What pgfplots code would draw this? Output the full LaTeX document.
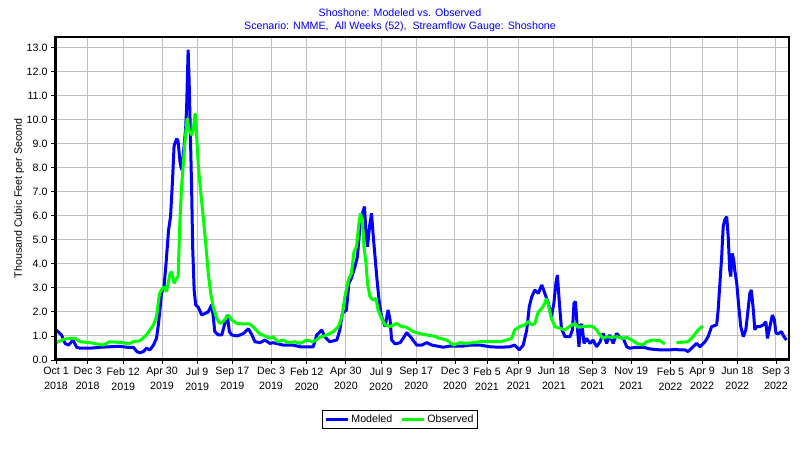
\documentclass[border=0pt]{standalone}
\usepackage{fontspec}
\setmainfont{Liberation Sans}
\usepackage{pgfplots}
\pgfplotsset{compat=1.18}
\usepackage{pgfplotstable}
\definecolor{mblue}{RGB}{0,0,255}
\definecolor{mgreen}{RGB}{0,255,0}
\definecolor{gridgray}{RGB}{192,192,192}

% day offset from Oct 1 2018, thousand cfs
\pgfplotstableread{
day val
0 1.25
11 1.04
18 0.69
25 0.62
31 0.76
34 0.83
41 0.53
48 0.49
68 0.49
88 0.53
107 0.55
127 0.57
141 0.53
154 0.53
161 0.35
167 0.30
174 0.35
180 0.49
187 0.42
194 0.62
200 0.90
204 1.50
210 2.77
215 3.05
219 4.00
224 5.40
228 5.96
232 7.50
235 8.90
240 9.20
243 9.10
247 8.20
250 7.90
253 8.45
258 9.60
260 10.50
263 12.90
265 11.60
268 8.90
270 7.07
272 4.70
275 2.90
278 2.29
283 2.20
290 1.87
297 1.94
303 2.00
310 2.30
313 1.80
316 1.18
323 1.04
330 1.04
336 1.52
341 1.87
345 1.18
350 1.04
360 1.00
366 1.04
373 1.10
383 1.30
390 1.04
396 0.76
406 0.72
416 0.83
426 0.69
432 0.72
452 0.62
472 0.62
486 0.55
512 0.55
519 1.04
529 1.25
535 0.97
545 0.76
559 0.83
565 1.25
570 1.94
578 2.08
583 3.19
588 3.40
595 3.88
600 4.30
605 5.54
610 6.10
614 6.38
617 5.27
620 4.71
624 5.54
628 6.10
631 5.27
635 4.30
639 3.33
643 2.49
648 1.80
655 1.39
661 2.08
665 1.66
668 0.83
675 0.67
685 0.72
691 0.90
698 1.14
708 0.90
718 0.62
728 0.62
738 0.72
748 0.62
758 0.58
771 0.53
784 0.58
797 0.58
811 0.58
824 0.62
844 0.62
864 0.55
884 0.53
903 0.55
913 0.62
922 0.42
930 0.62
937 1.25
942 2.22
947 2.63
953 2.91
960 2.77
967 3.12
973 2.77
980 2.36
986 1.80
991 2.36
995 3.19
998 3.53
1002 2.36
1006 1.32
1013 0.97
1023 0.97
1028 1.25
1031 2.36
1034 2.43
1037 1.52
1041 0.55
1044 1.46
1047 1.46
1051 0.69
1056 0.90
1063 0.69
1069 0.83
1076 0.55
1083 0.76
1089 1.11
1096 0.69
1102 1.04
1109 0.69
1116 1.11
1122 0.94
1129 0.90
1136 0.55
1142 0.49
1156 0.53
1169 0.53
1182 0.46
1202 0.42
1222 0.42
1232 0.44
1242 0.42
1252 0.42
1258 0.35
1268 0.55
1275 0.69
1282 0.55
1292 0.76
1298 0.97
1305 1.39
1315 1.46
1318 2.08
1321 3.05
1325 4.30
1328 5.54
1331 5.82
1335 5.96
1338 5.13
1341 3.74
1343 3.47
1346 4.43
1349 4.16
1351 3.74
1355 3.19
1359 2.22
1363 1.39
1368 0.97
1373 1.25
1376 1.80
1381 2.77
1384 2.91
1388 2.08
1391 1.25
1394 1.39
1401 1.39
1408 1.46
1413 1.59
1416 0.90
1421 1.39
1426 1.87
1430 1.66
1433 1.11
1439 1.11
1444 1.18
1449 0.97
1454 0.83
}\modeled

\pgfplotstableread{
day val
0 0.72
15 0.86
28 0.90
38 0.90
48 0.76
68 0.72
94 0.62
107 0.76
134 0.72
144 0.67
154 0.76
167 0.80
180 1.04
194 1.46
200 1.80
206 2.77
214 3.05
220 2.84
227 3.60
230 3.67
235 3.19
240 3.40
243 3.47
247 5.96
250 7.20
253 8.04
257 9.15
261 10.05
265 9.56
270 9.35
273 9.56
277 10.26
280 9.29
283 8.18
287 7.20
293 5.96
298 4.85
303 3.60
308 2.77
313 2.20
320 1.73
326 1.52
333 1.60
343 1.87
350 1.66
360 1.52
373 1.50
386 1.50
396 1.30
406 1.08
416 1.00
426 0.90
432 0.97
442 0.76
452 0.83
462 0.72
476 0.76
486 0.69
499 0.83
512 0.76
525 0.94
539 1.04
552 1.18
562 1.39
569 1.80
575 2.63
582 3.33
588 3.60
593 4.50
598 4.71
603 5.68
606 6.10
610 5.70
613 4.71
617 4.02
620 3.19
625 2.63
631 2.49
637 2.56
641 2.08
648 1.73
655 1.46
665 1.39
678 1.52
688 1.39
698 1.36
711 1.18
724 1.10
738 1.04
751 1.00
764 0.90
778 0.83
791 0.62
804 0.72
817 0.69
830 0.72
844 0.76
864 0.76
884 0.76
897 0.83
907 0.90
913 1.25
923 1.39
933 1.46
940 1.60
947 1.46
953 1.52
960 2.00
967 2.15
973 2.36
976 2.56
980 2.29
986 1.73
993 1.39
1003 1.32
1013 1.25
1023 1.41
1033 1.52
1039 1.36
1049 1.39
1063 1.41
1069 1.39
1076 1.25
1083 1.04
1089 0.90
1096 0.97
1106 0.94
1116 0.97
1129 0.90
1136 0.94
1146 0.83
1156 0.69
1169 0.62
1175 0.76
1189 0.83
1202 0.80
1212 0.67
1222 nan
1235 0.72
1258 0.76
1268 0.97
1278 1.25
1287 1.41
}\observed

\begin{document}
\begin{tikzpicture}
\path[use as bounding box] (0bp,0bp) rectangle (800bp,450bp);
\node[font=\fontsize{10.7}{12}\selectfont, text=mblue] at (400bp,437bp) {Shoshone: Modeled vs. Observed};
\node[font=\fontsize{10.7}{12}\selectfont, text=mblue] at (400bp,423bp) {Scenario: NMME,\ \ All Weeks (52),\ \ Streamflow Gauge: Shoshone};
\node[rotate=90, font=\fontsize{10.7}{12}\selectfont] at (19bp,251.5bp) {Thousand Cubic Feet per Second};
\begin{axis}[
  at={(55bp,90bp)}, anchor=south west,
  scale only axis, width=734bp, height=323bp,
  xmin=-2, xmax=1459, ymin=0, ymax=13.43,
  xtick={0,63,134,211,281,351,428,499,577,647,717,794,858,921,991,1068,1145,1223,1286,1356,1433},
  xticklabels={{Oct 1\\2018},{Dec 3\\2018},{Feb 12\\2019},{Apr 30\\2019},{Jul 9\\2019},{Sep 17\\2019},{Dec 3\\2019},{Feb 12\\2020},{Apr 30\\2020},{Jul 9\\2020},{Sep 17\\2020},{Dec 3\\2020},{Feb 5\\2021},{Apr 9\\2021},{Jun 18\\2021},{Sep 3\\2021},{Nov 19\\2021},{Feb 5\\2022},{Apr 9\\2022},{Jun 18\\2022},{Sep 3\\2022}},
  xticklabel style={align=center, font=\fontsize{10.7}{15}\selectfont},
  ytick={0,1,...,13},
  yticklabel style={font=\fontsize{10.7}{12}\selectfont, /pgf/number format/.cd, fixed, fixed zerofill, precision=1, assume math mode=true},
  tick align=outside, xtick pos=bottom, ytick pos=left,
  major tick length=4bp,
  tick style={black, line width=0.8bp},
  grid=major,
  major grid style={gridgray, line width=0.9bp},
  axis line style={black, line width=1.2bp},
  unbounded coords=jump,
  legend columns=2,
  legend style={at={(0.470,-0.184)}, anchor=center, draw=black, line width=0.8bp,
    font=\fontsize{10.7}{12}\selectfont, inner sep=2bp,
    /tikz/every even column/.append style={column sep=6bp}},
  legend image code/.code={\draw[#1, line width=3bp] (0bp,0bp) -- (22bp,0bp);},
]
\addplot[mblue, line width=3bp, line join=bevel] table[x=day, y=val] {\modeled};
\addlegendentry{Modeled}
\addplot[mgreen, line width=3bp, line join=bevel] table[x=day, y=val] {\observed};
\addlegendentry{Observed}
\draw[black, line width=3.5bp] (rel axis cs:0,1) -- (rel axis cs:0,0) -- (rel axis cs:1,0);
\end{axis}
\end{tikzpicture}
\end{document}
